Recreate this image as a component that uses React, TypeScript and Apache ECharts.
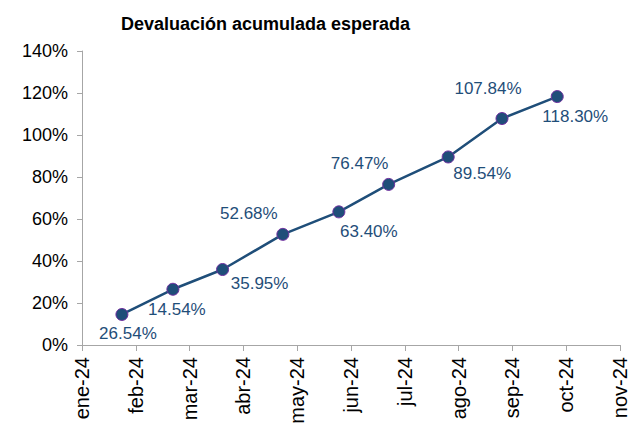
import React, { useEffect, useRef } from "react";
import * as echarts from "echarts";

const monthLabels = ["ene-24", "feb-24", "mar-24", "abr-24", "may-24", "jun-24", "jul-24", "ago-24", "sep-24", "oct-24", "nov-24"];
// survey dates (year, month 1-12, day)
const pointDates: [number, number, number][] = [
  [2024, 1, 24], [2024, 2, 21], [2024, 3, 20], [2024, 4, 23], [2024, 5, 25],
  [2024, 6, 22], [2024, 7, 26], [2024, 8, 26], [2024, 9, 26],
];
const values = [14.54, 26.54, 35.95, 52.68, 63.4, 76.47, 89.54, 107.84, 118.3];
const labelTexts = ["26.54%", "14.54%", "35.95%", "52.68%", "63.40%", "76.47%", "89.54%", "107.84%", "118.30%"];
const labelOffsets: [number, number][] = [
  [6, 19], [4, 20], [37, 14], [-34, -21], [30, 20], [-29, -21], [34, 17], [-14, -30], [18, 20],
];

function monthPos(d: [number, number, number]) {
  const [y, m, day] = d;
  const dim = new Date(y, m, 0).getDate();
  return (m - 1) + (day - 1) / dim;
}

export default function App() {
  const ref = useRef<HTMLDivElement>(null);
  useEffect(() => {
    document.body.style.margin = "0";
    const chart = echarts.init(ref.current!, null, { renderer: "svg" });
    const font = "'Liberation Sans', Arial, sans-serif";
    const data = values.map((v, i) => ({
      value: [monthPos(pointDates[i]), v],
      label: { offset: labelOffsets[i] },
    }));
    chart.setOption({
      animation: false,
      title: {
        text: "Devaluación acumulada esperada",
        left: 116,
        top: 10,
        textStyle: { fontFamily: font, fontWeight: "bold", fontSize: 18, color: "#000" },
      },
      grid: { left: 82, right: 19, top: 51, bottom: 87 },
      xAxis: {
        type: "value",
        min: 0,
        max: monthLabels.length - 1,
        interval: 1,
        axisLine: { lineStyle: { color: "#A6A6A6", width: 1 } },
        axisTick: { show: true, length: 6, lineStyle: { color: "#A6A6A6" } },
        splitLine: { show: false },
        axisLabel: {
          rotate: 90,
          margin: 12,
          fontSize: 20,
          fontFamily: font,
          color: "#000",
          formatter: (v: number) => monthLabels[Math.round(v)] ?? "",
        },
      },
      yAxis: {
        type: "value",
        min: 0,
        max: 140,
        interval: 20,
        axisLine: { show: true, lineStyle: { color: "#A6A6A6", width: 1 } },
        axisTick: { show: true, length: 5, lineStyle: { color: "#A6A6A6" } },
        splitLine: { show: false },
        axisLabel: {
          margin: 14,
          fontSize: 18,
          fontFamily: font,
          color: "#000",
          formatter: (v: number) => `${v}%`,
        },
      },
      series: [
        {
          type: "line",
          data,
          symbol: "circle",
          symbolSize: 12,
          lineStyle: { color: "#1F4E79", width: 2.5 },
          itemStyle: { color: "#1F4E79", borderColor: "#7030A0", borderWidth: 1 },
          label: {
            show: true,
            position: "inside",
            fontSize: 17,
            fontFamily: font,
            color: "#1F4E79",
            formatter: (p: any) => labelTexts[p.dataIndex],
          },
        },
      ],
    });
    return () => chart.dispose();
  }, []);
  return <div ref={ref} style={{ width: 639, height: 432 }} />;
}
